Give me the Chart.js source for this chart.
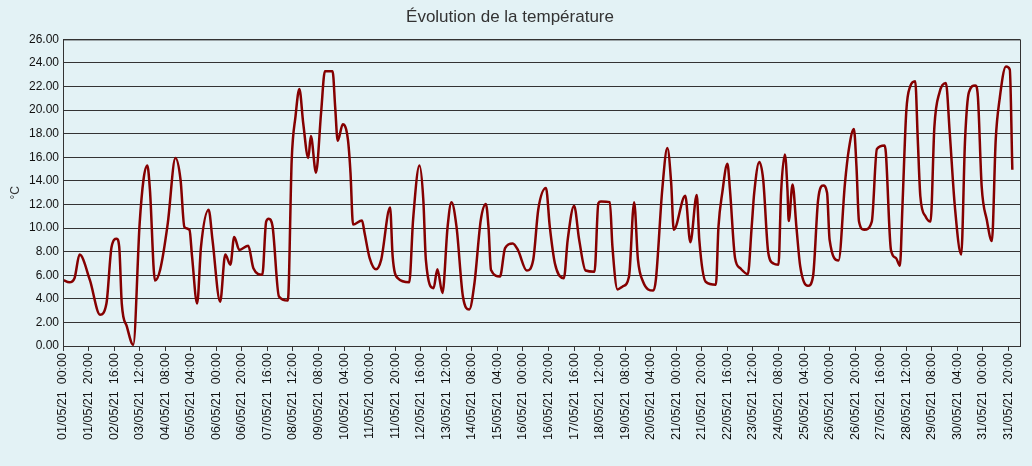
<!DOCTYPE html>
<html>
<head>
<meta charset="utf-8">
<script src="https://cdn.jsdelivr.net/npm/chart.js@4/dist/chart.umd.min.js"></script>
<style>
  html, body { margin: 0; padding: 0; background: #e3f2f5; }
  #wrap { width: 1032px; height: 466px; }
</style>
</head>
<body>
<div id="wrap"><canvas id="chart"></canvas></div>
<script>
// heures écoulées depuis le 01/05/21 00:00
const hours = [0, 5, 9, 13, 21, 29, 34, 38, 42, 44, 46, 50, 55, 60, 63, 66, 68, 72, 76, 82,
  88, 92, 95, 99, 101, 105, 108, 114, 117, 123, 127, 131, 134, 138, 145, 149, 156, 159, 161, 164,
  169, 176, 179, 182, 185, 188, 192, 194, 198, 202, 205, 211, 213, 215, 219, 223, 225, 227, 234, 236,
  240, 245, 249, 256, 258, 262, 271, 274, 279, 282, 284, 290, 293, 297, 301, 304, 308, 313, 318, 322,
  327, 331, 333, 335, 342, 346, 352, 356, 363, 368, 372, 378, 381, 385, 392, 395, 400, 404, 409, 416,
  419, 421, 428, 430, 434, 438, 443, 447, 450, 454, 462, 464, 469, 473, 476, 478, 487, 491, 496, 498,
  503, 511, 513, 516, 520, 522, 526, 530, 536, 539, 541, 545, 548, 552, 556, 560, 562, 565, 567, 568,
  571, 574, 577, 583, 587, 591, 595, 598, 600, 607, 612, 615, 619, 621, 623, 627, 633, 637, 643, 644,
  648, 652, 655, 657, 660, 663, 667, 669, 671, 675, 679, 682, 686, 691, 694, 698, 703, 706, 709, 714,
  716, 719, 723, 727, 730, 733, 738, 741, 743];

const temps = [5.6, 5.4, 5.75, 7.75, 5.6, 2.65, 3.6, 8.4, 9.1, 8.4, 3.6, 1.65, 0.1, 10.4, 14.1, 15.3, 13.3, 5.55, 6.45, 10.4,
  15.95, 14.1, 10.1, 9.85, 7.6, 3.6, 8.4, 11.55, 9, 3.75, 7.75, 6.9, 9.25, 8.15, 8.5, 6.6, 6.05, 10.55, 10.8, 10.15,
  4.2, 3.85, 15.8, 19.5, 21.8, 18.9, 15.95, 17.8, 14.7, 19.8, 23.3, 23.3, 20.3, 17.4, 18.8, 17.5, 14.7, 10.3, 10.65, 9.6,
  7.45, 6.5, 7.3, 11.75, 7.6, 5.75, 5.4, 10.7, 15.3, 12.4, 7.3, 4.9, 6.5, 4.5, 10.1, 12.2, 10.1, 4.2, 3.1, 5.3,
  10.7, 12.05, 10.1, 6.45, 5.9, 8.3, 8.7, 8.15, 6.4, 7.3, 11.6, 13.4, 10.1, 7.0, 5.75, 9, 11.9, 9, 6.4, 6.3,
  12.1, 12.25, 12.2, 8.45, 4.8, 5.05, 5.9, 12.2, 7.3, 5.45, 4.7, 5.6, 13.25, 16.8, 13.8, 9.85, 12.75, 8.8, 12.8, 9,
  5.45, 5.2, 10.1, 13, 15.45, 13.25, 7.45, 6.6, 6.1, 10.1, 13, 15.6, 14.1, 7.9, 7.0, 6.9, 13, 16.25, 13.25, 10.6,
  13.7, 10.1, 6.75, 5.1, 5.9, 12.4, 13.6, 13, 9, 7.25, 13.8, 16.65, 18.4, 15.25, 10.55, 9.85, 10.55, 16.7, 17, 16.4,
  8.15, 7.45, 6.8, 11.85, 19.9, 22.0, 22.45, 17.5, 12.7, 11, 10.55, 18.6, 21.5, 22.3, 18.1, 11.85, 7.75, 17.5, 21.5, 22.1,
  21.2, 13.55, 10.7, 8.9, 17.5, 20.9, 23.7, 23.45, 14.95];

const yTicks = [0, 2, 4, 6, 8, 10, 12, 14, 16, 18, 20, 22, 24, 26];
// une étiquette toutes les 20 heures, du 01/05 00:00 au 31/05 20:00
const xTicks = [0, 20, 40, 60, 80, 100, 120, 140, 160, 180, 200, 220, 240, 260, 280, 300, 320, 340, 360,
  380, 400, 420, 440, 460, 480, 500, 520, 540, 560, 580, 600, 620, 640, 660, 680, 700, 720, 740];

function hourLabel(h) {
  const d = Math.floor(h / 24) + 1;
  const hh = h % 24;
  return String(d).padStart(2, '0') + '/05/21  ' + String(hh).padStart(2, '0') + ':00';
}

const frame = {
  id: 'frame',
  afterDraw(c) {
    const a = c.chartArea, ctx = c.ctx;
    ctx.save();
    ctx.strokeStyle = '#333';
    ctx.lineWidth = 1;
    ctx.strokeRect(a.left + 0.5, a.top + 0.5, a.right - a.left, a.bottom - a.top);
    ctx.restore();
  }
};

Chart.defaults.font.family = '"Liberation Sans", Arial, sans-serif';

new Chart(document.getElementById('chart'), {
  type: 'line',
  data: {
    datasets: [{
      label: 'Température',
      data: hours.map((h, i) => ({ x: h, y: temps[i] })),
      borderColor: '#850000',
      borderWidth: 2.5,
      pointRadius: 0,
      fill: false,
      cubicInterpolationMode: 'monotone'
    }]
  },
  plugins: [frame],
  options: {
    responsive: true,
    maintainAspectRatio: false,
    animation: false,
    layout: { padding: { left: 0, right: 12, top: 0, bottom: 0 } },
    plugins: {
      legend: { display: false },
      tooltip: { enabled: false },
      title: {
        display: true,
        text: 'Évolution de la température',
        color: '#333',
        font: { size: 17, weight: 'normal' },
        padding: { top: 7, bottom: 12 }
      }
    },
    scales: {
      x: {
        type: 'linear',
        min: 0,
        max: 749,
        afterBuildTicks: s => { s.ticks = xTicks.map(v => ({ value: v })); },
        afterFit: s => { s.height = 120; },
        grid: { drawOnChartArea: false, drawTicks: true, tickLength: 5, color: '#333' },
        border: { display: true, color: '#333' },
        ticks: {
          autoSkip: false,
          maxRotation: 90,
          minRotation: 90,
          padding: 2,
          color: '#111',
          font: { size: 12.5 },
          callback: v => hourLabel(v)
        }
      },
      y: {
        min: 0,
        max: 26,
        afterBuildTicks: s => { s.ticks = yTicks.map(v => ({ value: v })); },
        afterFit: s => { s.width = 63; },
        grid: { color: '#333', lineWidth: 1, drawTicks: false },
        border: { display: true, color: '#333' },
        title: { display: true, text: '°C', color: '#333', font: { size: 12 }, padding: { top: 8, bottom: 4 } },
        ticks: {
          padding: 4,
          color: '#111',
          font: { size: 12 },
          callback: v => v.toFixed(2)
        }
      }
    }
  }
});
</script>
</body>
</html>
